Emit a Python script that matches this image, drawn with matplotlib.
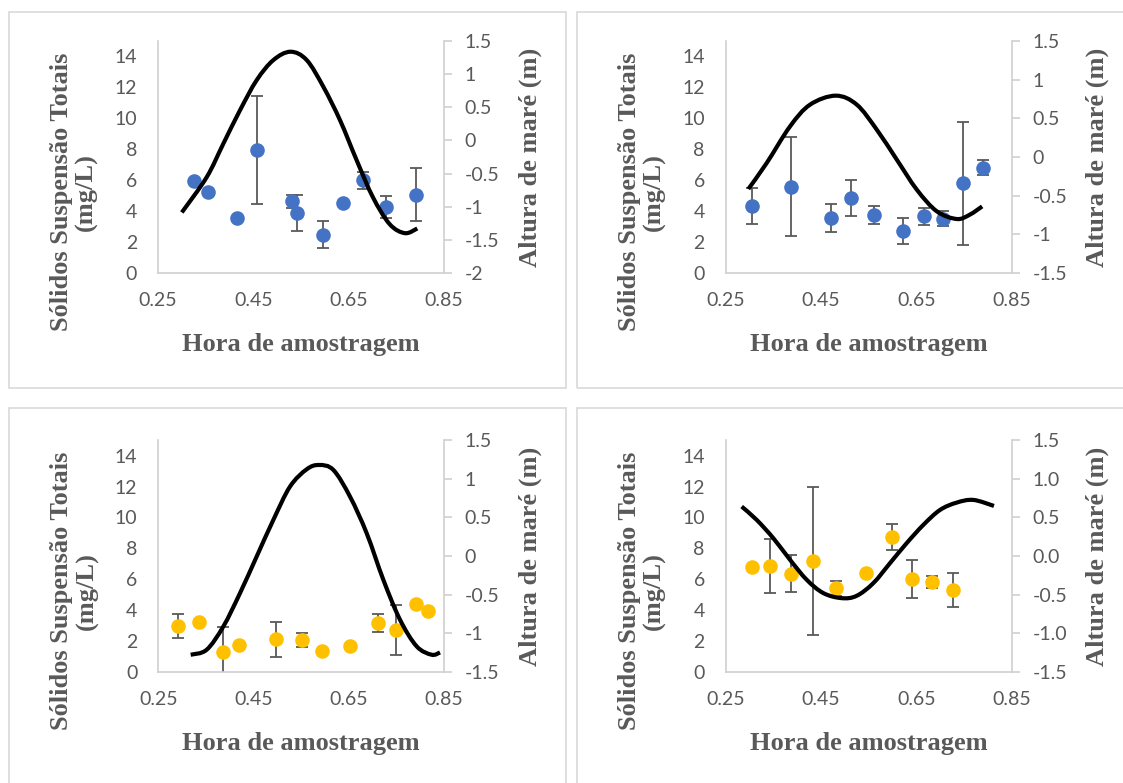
import matplotlib
matplotlib.use("Agg")
import matplotlib.pyplot as plt
from matplotlib.patches import Rectangle, PathPatch
from matplotlib.path import Path
from matplotlib.ticker import FixedLocator, FuncFormatter

plt.rcParams['axes.unicode_minus'] = False

# ---- data ----
# panel 1 (blue)
t1 = [0.326, 0.354, 0.416, 0.458, 0.532, 0.541, 0.597, 0.639, 0.680, 0.729, 0.791]
sst1 = [5.93, 5.21, 3.55, 7.94, 4.63, 3.87, 2.47, 4.52, 5.99, 4.27, 5.06]
err1 = [0, 0, 0, 3.5, 0.4, 1.15, 0.88, 0, 0.56, 0.72, 1.73]
tide_t1 = [0.300, 0.352, 0.387, 0.422, 0.457, 0.492, 0.528, 0.562, 0.597, 0.632,
           0.667, 0.701, 0.736, 0.768, 0.794]
tide_h1 = [-1.086, -0.556, -0.050, 0.455, 0.909, 1.212, 1.338, 1.212, 0.808, 0.303,
           -0.303, -0.859, -1.263, -1.399, -1.328]

# panel 2 (blue)
t2 = [0.3045, 0.388, 0.4716, 0.513, 0.562, 0.623, 0.667, 0.706, 0.748, 0.790]
sst2 = [4.32, 5.57, 3.56, 4.86, 3.74, 2.72, 3.67, 3.52, 5.79, 6.82]
err2 = [1.15, 3.2, 0.92, 1.17, 0.56, 0.84, 0.54, 0.48, 3.98, 0.48]
tide_t2 = [0.2975, 0.336, 0.385, 0.427, 0.481, 0.525, 0.567, 0.609, 0.651, 0.693,
           0.735, 0.762, 0.788]
tide_h2 = [-0.414, -0.078, 0.396, 0.677, 0.793, 0.677, 0.353, -0.035, -0.423, -0.703,
           -0.802, -0.746, -0.639]

# panel 3 (yellow)
t3 = [0.292, 0.336, 0.386, 0.420, 0.4965, 0.552, 0.594, 0.652, 0.711, 0.749, 0.792, 0.816]
sst3 = [2.96, 3.24, 1.30, 1.71, 2.10, 2.06, 1.34, 1.69, 3.14, 2.70, 4.39, 3.96]
err3 = [0.8, 0, 1.6, 0, 1.13, 0.43, 0, 0, 0.57, 1.62, 0, 0]
tide_t3 = [0.318, 0.3516, 0.3866, 0.4216, 0.4566, 0.4916, 0.5266, 0.5616, 0.5875, 0.6176,
           0.6526, 0.6876, 0.7226, 0.7576, 0.7926, 0.8241, 0.8416]
tide_h3 = [-1.280, -1.215, -0.913, -0.481, -0.006, 0.469, 0.901, 1.125, 1.181, 1.117,
           0.771, 0.296, -0.308, -0.826, -1.171, -1.280, -1.250]

# panel 4 (yellow)
t4 = [0.3045, 0.343, 0.388, 0.434, 0.4807, 0.5436, 0.599, 0.6415, 0.6835, 0.7268]
sst4 = [6.81, 6.85, 6.36, 7.20, 5.41, 6.38, 8.76, 6.01, 5.84, 5.30]
err4 = [0, 1.75, 1.2, 4.8, 0.5, 0, 0.84, 1.26, 0.39, 1.1]
tide_t4 = [0.2835, 0.315, 0.350, 0.385, 0.420, 0.455, 0.4933, 0.5247, 0.5597, 0.5947,
           0.6296, 0.6646, 0.6996, 0.7345, 0.7695, 0.8128]
tide_h4 = [0.642, 0.469, 0.231, -0.049, -0.308, -0.481, -0.546, -0.516, -0.351, -0.092,
           0.167, 0.404, 0.598, 0.693, 0.728, 0.650]

x_ticks = [0.25, 0.45, 0.65, 0.85]
left_ticks = [0, 2, 4, 6, 8, 10, 12, 14]

xlabel = 'Hora de amostragem'
ylabel_left = 'Sólidos Suspensão Totais\n(mg/L)'
ylabel_right = 'Altura de maré (m)'

BLUE = '#4472C4'
YELLOW = '#FFC000'
GRAY = '#595959'
SPINE = '#d0d0d0'


def smooth_path(xs, ys):
    # Excel-style smoothed line: cubic Bezier segments through the points
    pts = list(zip(xs, ys))
    verts = [pts[0]]
    codes = [Path.MOVETO]
    n = len(pts)
    for i in range(n - 1):
        p0 = pts[max(i - 1, 0)]
        p1 = pts[i]
        p2 = pts[i + 1]
        p3 = pts[min(i + 2, n - 1)]
        c1 = (p1[0] + (p2[0] - p0[0]) / 6, p1[1] + (p2[1] - p0[1]) / 6)
        c2 = (p2[0] - (p3[0] - p1[0]) / 6, p2[1] - (p3[1] - p1[1]) / 6)
        verts += [c1, c2, p2]
        codes += [Path.CURVE4] * 3
    return Path(verts, codes)


W, H = 1123, 783
fig = plt.figure(figsize=(W / 100, H / 100), dpi=100)

# chart frames (pixel boxes)
frames = [(9, 12, 566, 388), (577, 12, 1130, 388), (9, 408, 566, 790), (577, 408, 1130, 790)]
for x0, y0, x1, y1 in frames:
    fig.add_artist(Rectangle((x0 / W, 1 - y1 / H), (x1 - x0) / W, (y1 - y0) / H,
                             transform=fig.transFigure, fill=False,
                             edgecolor='#d9d9d9', lw=1.2))

panels = [
    dict(box=(158, 41, 444, 273), t=t1, s=sst1, e=err1, tt=tide_t1, th=tide_h1,
         color=BLUE, rlim=(-2, 1.5), rfmt='{:g}'),
    dict(box=(725.7, 41, 1011.7, 273), t=t2, s=sst2, e=err2, tt=tide_t2, th=tide_h2,
         color=BLUE, rlim=(-1.5, 1.5), rfmt='{:g}'),
    dict(box=(158.3, 440.4, 444, 671.7), t=t3, s=sst3, e=err3, tt=tide_t3, th=tide_h3,
         color=YELLOW, rlim=(-1.5, 1.5), rfmt='{:g}'),
    dict(box=(725.7, 440.4, 1011.7, 671.7), t=t4, s=sst4, e=err4, tt=tide_t4, th=tide_h4,
         color=YELLOW, rlim=(-1.5, 1.5), rfmt='{:.1f}'),
]

tick_font = dict(family='Lato', size=14, color=GRAY)
title_font = dict(family='Liberation Serif', weight='bold', size=19, color=GRAY)

for p in panels:
    x0, y0, x1, y1 = p['box']
    ax = fig.add_axes([x0 / W, 1 - y1 / H, (x1 - x0) / W, (y1 - y0) / H])
    ax.errorbar(p['t'], p['s'], yerr=p['e'], fmt='o', color=p['color'], ms=10.5,
                mec='none', ecolor=GRAY, elinewidth=1.3, capsize=4.5, capthick=1.3)
    ax.set_xlim(0.25, 0.85)
    ax.set_ylim(0, 15)
    ax.xaxis.set_major_locator(FixedLocator(x_ticks))
    ax.yaxis.set_major_locator(FixedLocator(left_ticks))
    ax.xaxis.set_major_formatter(FuncFormatter(lambda v, pos: '{:g}'.format(round(v, 2))))
    ax.tick_params(axis='both', length=0)
    ax.tick_params(axis='y', pad=15)
    ax.tick_params(axis='x', pad=14)
    for lab in ax.get_xticklabels() + ax.get_yticklabels():
        lab.set(**tick_font)
    for side in ['top', 'right']:
        ax.spines[side].set_visible(False)
    for side in ['left', 'bottom']:
        ax.spines[side].set_color(SPINE)
        ax.spines[side].set_linewidth(1.2)

    ax2 = ax.twinx()
    ax2.add_patch(PathPatch(smooth_path(p['tt'], p['th']), fill=False,
                            edgecolor='black', lw=3, capstyle='butt'))
    lo, hi = p['rlim']
    ax2.set_ylim(lo, hi)
    rt = [lo + 0.5 * i for i in range(int(round((hi - lo) / 0.5)) + 1)]
    ax2.yaxis.set_major_locator(FixedLocator(rt))
    fmt = p['rfmt']
    ax2.yaxis.set_major_formatter(FuncFormatter(lambda v, pos, f=fmt: f.format(v + 0.0)))
    ax2.tick_params(axis='y', length=6, width=1.2, color=SPINE, pad=9)
    for lab in ax2.get_yticklabels():
        lab.set(**tick_font)
    for side in ['top', 'left', 'bottom']:
        ax2.spines[side].set_visible(False)
    ax2.spines['right'].set_color(SPINE)
    ax2.spines['right'].set_linewidth(1.2)

    # axis titles
    fig.text((x0 - 84) / W, 1 - (y1 - 81) / H, ylabel_left, rotation=90,
             ha='center', va='center', multialignment='center', linespacing=1.1,
             **title_font)
    fig.text((x1 + 86) / W, 1 - ((y0 + y1) / 2) / H, ylabel_right, rotation=90,
             ha='center', va='center', **title_font)
    fig.text(((x0 + x1) / 2) / W, 1 - (y1 + 72) / H, xlabel,
             ha='center', va='center', **title_font)

fig.savefig('out.png', dpi=100)
